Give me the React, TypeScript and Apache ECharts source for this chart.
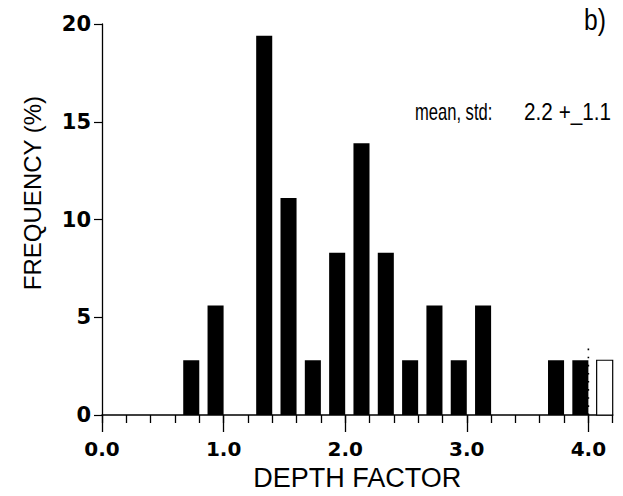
import React, { useEffect, useRef } from "react";
import * as echarts from "echarts";

// Histogram bins (lower edge of each 0.2-wide DEPTH FACTOR bin)
const binStarts = [0.0, 0.2, 0.4, 0.6, 0.8, 1.0, 1.2, 1.4, 1.6, 1.8, 2.0, 2.2, 2.4, 2.6, 2.8, 3.0, 3.2, 3.4, 3.6, 3.8];
// Frequency (%) per bin
const frequency = [0, 0, 0, 2.8, 5.6, 0, 19.4, 11.1, 2.8, 8.3, 13.9, 8.3, 2.8, 5.6, 2.8, 5.6, 0, 0, 2.8, 2.8];
// Values beyond 4.0 (hollow bar)
const overflowBins = [4.0];
const overflowFreq = [2.8];
// Dotted marker at depth factor 4.0
const cutoffLine = [[4.0, 0], [4.0, 3.7]];

const yTicks = [0, 5, 10, 15, 20];
const xMajorTicks = [0, 1, 2, 3, 4];

const BIN_WIDTH = 0.2;
const BAR_OFFSET = 0.068;

const labelFont = "'DejaVu Sans', Verdana, sans-serif";
const titleFont = "'Liberation Sans', Arial, Helvetica, sans-serif";

function makeRender(hollow: boolean) {
  return (params: any, api: any) => {
    const x0 = api.value(0);
    const v = api.value(1);
    if (!v) return null;
    const p1 = api.coord([x0 + BAR_OFFSET, v]);
    const p2 = api.coord([x0 + BIN_WIDTH, 0]);
    return {
      type: "rect",
      shape: { x: p1[0], y: p1[1], width: p2[0] - p1[0], height: p2[1] - p1[1] },
      style: hollow
        ? { fill: "#ffffff", stroke: "#000000", lineWidth: 1.2 }
        : { fill: "#000000" },
    };
  };
}

export default function App() {
  const ref = useRef<HTMLDivElement>(null);
  useEffect(() => {
    if (!ref.current) return;
    const chart = echarts.init(ref.current, undefined, { renderer: "svg" });
    chart.setOption({
      animation: false,
      backgroundColor: "#ffffff",
      grid: { left: 102, right: 10.3, top: 24, bottom: 79, containLabel: false },
      xAxis: [
        {
          type: "value",
          min: 0,
          max: 4.2,
          interval: 0.2,
          position: "bottom",
          axisLine: { show: true, lineStyle: { color: "#000", width: 1.5 } },
          axisTick: { show: true, inside: false, length: 8, lineStyle: { color: "#000", width: 1.3 } },
          axisLabel: { show: false },
          splitLine: { show: false },
        },
        {
          type: "value",
          min: 0,
          max: 4.2,
          position: "bottom",
          name: "DEPTH FACTOR",
          nameLocation: "middle",
          nameGap: 49,
          nameTextStyle: { fontFamily: titleFont, fontSize: 27, color: "#000" },
          axisLine: { show: false },
          axisTick: { show: true, customValues: xMajorTicks, length: 17, lineStyle: { color: "#000", width: 1.3 } },
          axisLabel: {
            show: true,
            customValues: xMajorTicks,
            formatter: (v: number) => v.toFixed(1),
            margin: 24,
            fontFamily: labelFont,
            fontWeight: "bold",
            fontSize: 20,
            color: "#000",
          },
          splitLine: { show: false },
        },
      ],
      yAxis: {
        type: "value",
        min: 0,
        max: 20,
        interval: 5,
        axisLine: { show: true, lineStyle: { color: "#000", width: 1.3 } },
        axisTick: { show: true, inside: false, length: 8, lineStyle: { color: "#000", width: 1.2 } },
        axisLabel: {
          show: true,
          customValues: yTicks,
          margin: 11,
          fontFamily: labelFont,
          fontWeight: "bold",
          fontSize: 21,
          color: "#000",
        },
        splitLine: { show: false },
      },
      graphic: [
        {
          type: "text",
          x: 32,
          y: 193,
          rotation: Math.PI / 2,
          style: {
            text: "FREQUENCY (%)",
            font: `24px ${titleFont}`,
            fill: "#000",
            textAlign: "center",
            textVerticalAlign: "middle",
          },
        },
        {
          type: "text",
          x: 415,
          y: 112,
          scaleX: 0.72,
          style: {
            text: "mean, std:",
            font: `23px ${titleFont}`,
            fill: "#000",
            textAlign: "left",
            textVerticalAlign: "middle",
          },
        },
        {
          type: "text",
          x: 611,
          y: 112,
          scaleX: 0.9,
          style: {
            text: "2.2 +_1.1",
            font: `23px ${titleFont}`,
            fill: "#000",
            textAlign: "right",
            textVerticalAlign: "middle",
          },
        },
        {
          type: "text",
          x: 606,
          y: 20,
          scaleX: 0.85,
          style: {
            text: "b)",
            font: `29px ${titleFont}`,
            fill: "#000",
            textAlign: "right",
            textVerticalAlign: "middle",
          },
        },
      ],
      series: [
        {
          name: "frequency",
          type: "custom",
          xAxisIndex: 0,
          renderItem: makeRender(false),
          encode: { x: 0, y: 1 },
          data: binStarts.map((b, i) => [b, frequency[i]]),
        },
        {
          name: "beyond 4.0",
          type: "custom",
          xAxisIndex: 0,
          renderItem: makeRender(true),
          encode: { x: 0, y: 1 },
          data: overflowBins.map((b, i) => [b, overflowFreq[i]]),
        },
        {
          name: "cutoff",
          type: "line",
          xAxisIndex: 0,
          symbol: "none",
          data: cutoffLine,
          lineStyle: { color: "#000", width: 1.6, type: [1.6, 6.5] },
        },
      ],
    });
    return () => chart.dispose();
  }, []);
  return <div ref={ref} style={{ width: 623, height: 496, position: "absolute", left: 0, top: 0 }} />;
}
